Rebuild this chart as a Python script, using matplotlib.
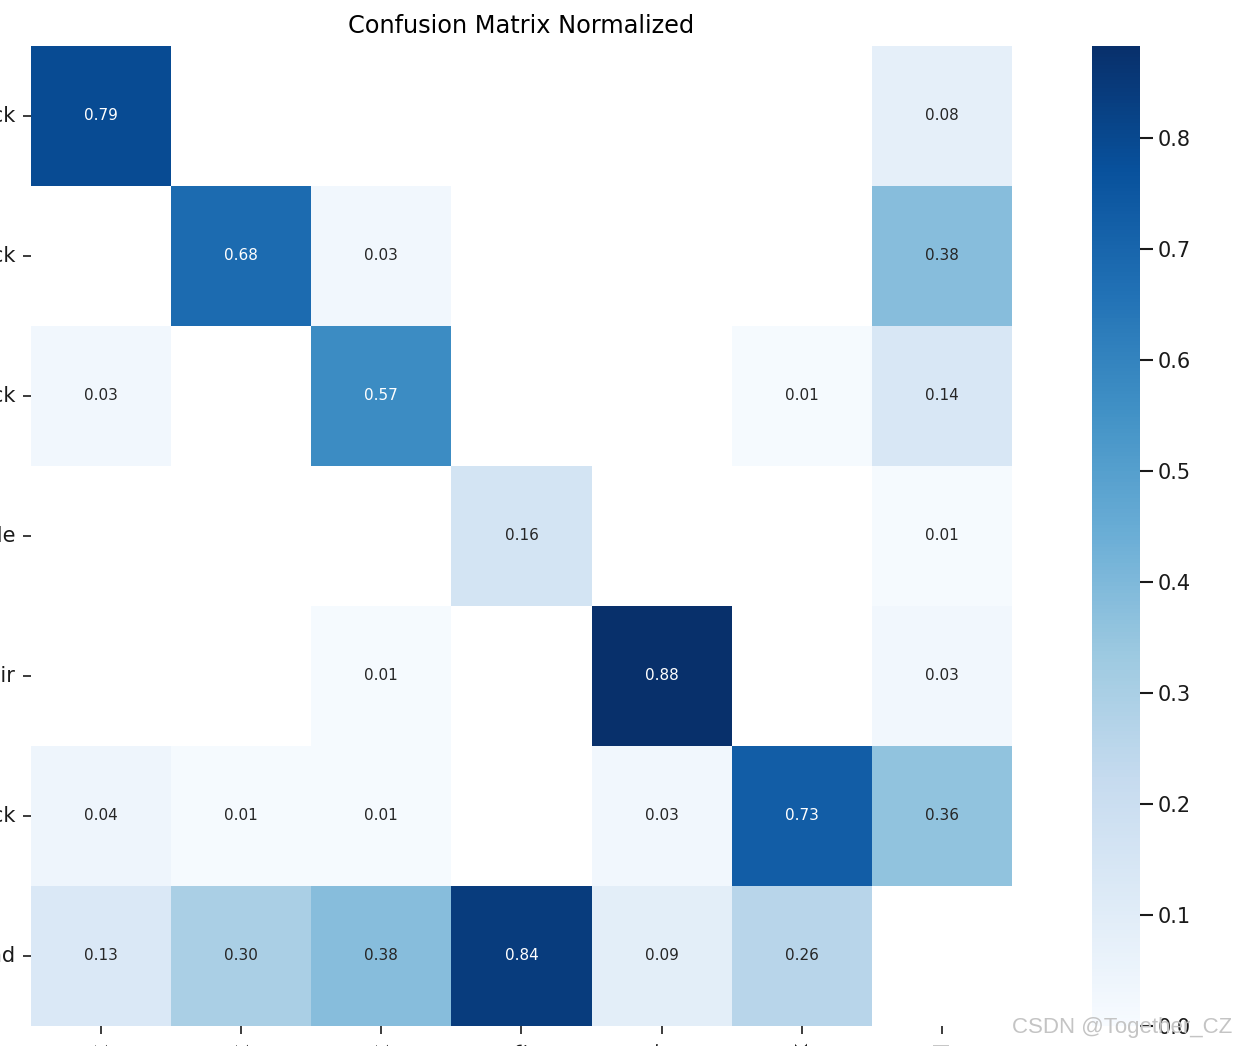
import numpy as np
import matplotlib
matplotlib.use("Agg")
import matplotlib.pyplot as plt
import seaborn as sns

names = ["attack", "block", "kick", "vehicle", "chair", "truck", "background"]

row0 = [0.79, 0.00, 0.00, 0.00, 0.00, 0.00, 0.08]
row1 = [0.00, 0.68, 0.03, 0.00, 0.00, 0.00, 0.38]
row2 = [0.03, 0.00, 0.57, 0.00, 0.00, 0.01, 0.14]
row3 = [0.00, 0.00, 0.00, 0.16, 0.00, 0.00, 0.01]
row4 = [0.00, 0.00, 0.01, 0.00, 0.883, 0.00, 0.03]
row5 = [0.04, 0.01, 0.01, 0.00, 0.03, 0.73, 0.36]
row6 = [0.13, 0.30, 0.38, 0.84, 0.09, 0.26, 0.00]

array = np.array([row0, row1, row2, row3, row4, row5, row6], dtype=float)
array[array < 0.005] = np.nan

W, H = 1236, 1046
fig = plt.figure(figsize=(W / 100, H / 100), dpi=100)
ax = fig.add_axes([31 / W, (H - 1026) / H, 981 / W, 980 / H])
cax = fig.add_axes([1092 / W, (H - 1026) / H, 48 / W, 980 / H])

hm = sns.heatmap(array, ax=ax, cbar_ax=cax, annot=True, annot_kws={"size": 11},
                 cmap="Blues", fmt=".2f", square=False, vmin=0.0,
                 xticklabels=names, yticklabels=names)
hm.set_facecolor((1, 1, 1))

ax.tick_params(axis="both", labelsize=15, length=6, width=1.2, pad=5,
               labelcolor="#1a1a1a", color="#1a1a1a")
plt.setp(ax.get_xticklabels(), rotation=90)
plt.setp(ax.get_yticklabels(), rotation=0)
ax.set_title("Confusion Matrix Normalized", fontsize=17.3, pad=9)

cax.tick_params(labelsize=15, length=9, width=1.5, labelcolor="#1a1a1a", color="#1a1a1a")
for s in cax.spines.values():
    s.set_visible(False)

fig.text(1232 / W, (H - 1027) / H, "CSDN @Together_CZ", ha="right", va="center",
         fontsize=16, color="#c4c4c4", family="Liberation Sans", zorder=0)

fig.savefig("out.png", dpi=100)
